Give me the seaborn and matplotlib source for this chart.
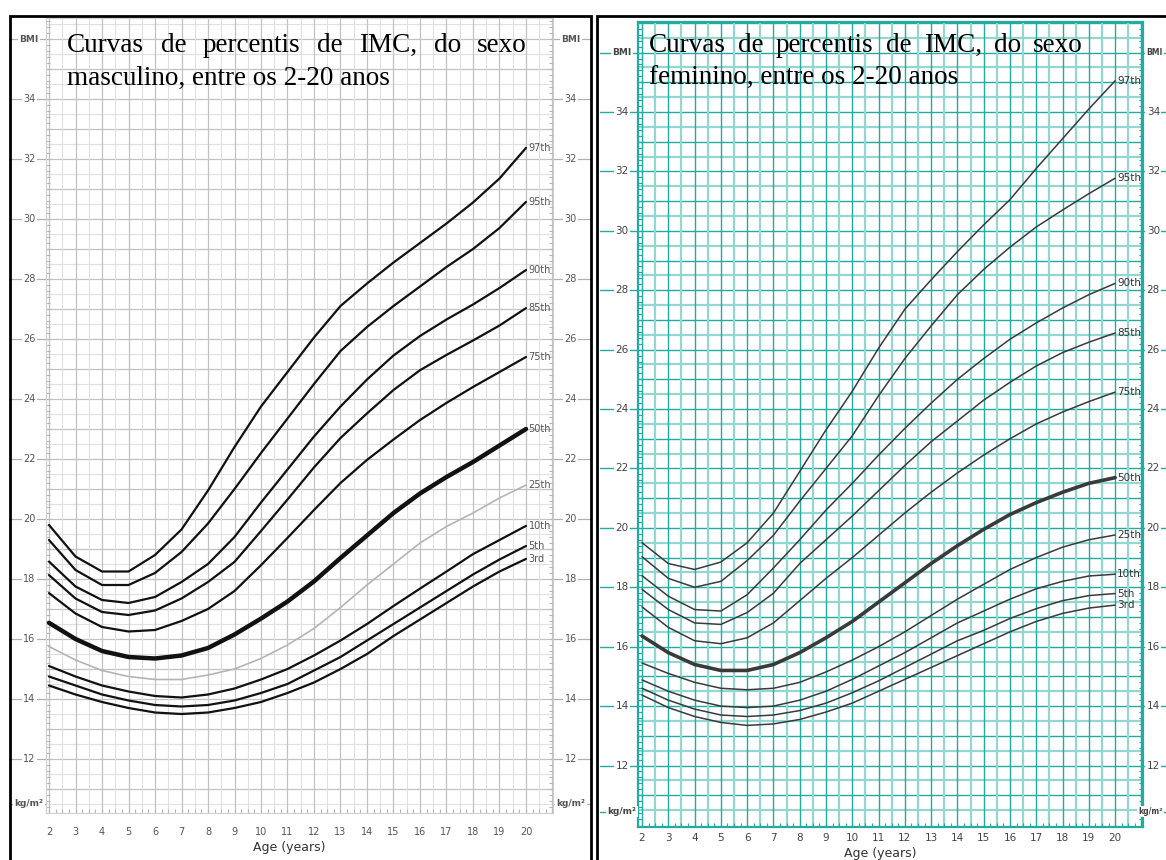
import numpy as np
import pandas as pd
import matplotlib
matplotlib.use("Agg")
import matplotlib.pyplot as plt
import seaborn as sns
from matplotlib.patches import Rectangle

# --- dados ---
AGES = list(range(2, 21))
PERCENTILES = ["97th", "95th", "90th", "85th", "75th", "50th", "25th", "10th", "5th", "3rd"]

BOYS_97 = [19.8, 18.75, 18.25, 18.25, 18.8, 19.65, 20.95, 22.4, 23.75, 24.9, 26.05, 27.1, 27.85, 28.55, 29.2, 29.85, 30.55, 31.35, 32.37]
BOYS_95 = [19.3, 18.3, 17.8, 17.8, 18.2, 18.9, 19.85, 21.0, 22.2, 23.35, 24.5, 25.6, 26.4, 27.1, 27.75, 28.4, 29.0, 29.7, 30.57]
BOYS_90 = [18.58, 17.75, 17.3, 17.2, 17.4, 17.9, 18.5, 19.4, 20.55, 21.65, 22.75, 23.75, 24.65, 25.45, 26.1, 26.65, 27.15, 27.7, 28.3]
BOYS_85 = [18.13, 17.35, 16.9, 16.8, 16.95, 17.35, 17.9, 18.57, 19.6, 20.65, 21.72, 22.7, 23.52, 24.3, 24.96, 25.47, 25.95, 26.45, 27.03]
BOYS_75 = [17.53, 16.85, 16.4, 16.25, 16.3, 16.6, 17.0, 17.6, 18.46, 19.37, 20.3, 21.2, 21.97, 22.65, 23.3, 23.87, 24.4, 24.9, 25.4]
BOYS_50 = [16.54, 16.0, 15.6, 15.4, 15.35, 15.45, 15.7, 16.15, 16.68, 17.25, 17.92, 18.7, 19.45, 20.2, 20.85, 21.4, 21.9, 22.45, 23.0]
BOYS_25 = [15.75, 15.3, 14.95, 14.75, 14.65, 14.65, 14.8, 15.0, 15.35, 15.8, 16.35, 17.05, 17.8, 18.5, 19.2, 19.75, 20.2, 20.7, 21.13]
BOYS_10 = [15.1, 14.75, 14.45, 14.25, 14.1, 14.05, 14.15, 14.35, 14.65, 15.0, 15.45, 15.95, 16.5, 17.1, 17.68, 18.25, 18.83, 19.3, 19.77]
BOYS_5 = [14.75, 14.45, 14.15, 13.95, 13.8, 13.75, 13.8, 13.95, 14.2, 14.5, 14.95, 15.4, 15.95, 16.5, 17.05, 17.6, 18.15, 18.65, 19.1]
BOYS_3 = [14.45, 14.15, 13.9, 13.7, 13.55, 13.5, 13.55, 13.7, 13.9, 14.2, 14.55, 15.0, 15.5, 16.1, 16.65, 17.2, 17.75, 18.25, 18.67]

GIRLS_97 = [19.5, 18.8, 18.6, 18.85, 19.5, 20.5, 21.9, 23.3, 24.6, 26.05, 27.36, 28.35, 29.3, 30.2, 31.05, 32.1, 33.1, 34.1, 35.05]
GIRLS_95 = [19.03, 18.3, 18.0, 18.2, 18.9, 19.75, 20.9, 22.0, 23.1, 24.45, 25.7, 26.8, 27.85, 28.7, 29.45, 30.13, 30.7, 31.25, 31.77]
GIRLS_90 = [18.39, 17.7, 17.25, 17.2, 17.75, 18.65, 19.6, 20.6, 21.5, 22.45, 23.35, 24.2, 25.0, 25.7, 26.35, 26.9, 27.4, 27.85, 28.23]
GIRLS_85 = [17.93, 17.25, 16.8, 16.75, 17.15, 17.8, 18.8, 19.6, 20.4, 21.25, 22.1, 22.9, 23.6, 24.3, 24.9, 25.45, 25.9, 26.25, 26.56]
GIRLS_75 = [17.34, 16.65, 16.2, 16.1, 16.3, 16.8, 17.55, 18.3, 19.0, 19.75, 20.5, 21.2, 21.85, 22.45, 23.0, 23.5, 23.9, 24.25, 24.57]
GIRLS_50 = [16.36, 15.8, 15.4, 15.2, 15.2, 15.4, 15.8, 16.3, 16.85, 17.5, 18.15, 18.8, 19.4, 19.95, 20.45, 20.85, 21.2, 21.5, 21.69]
GIRLS_25 = [15.45, 15.1, 14.8, 14.6, 14.55, 14.6, 14.8, 15.15, 15.55, 16.0, 16.5, 17.05, 17.6, 18.1, 18.6, 19.0, 19.35, 19.6, 19.76]
GIRLS_10 = [14.88, 14.5, 14.2, 14.0, 13.95, 14.0, 14.2, 14.5, 14.9, 15.35, 15.8, 16.3, 16.8, 17.2, 17.6, 17.95, 18.2, 18.38, 18.44]
GIRLS_5 = [14.6, 14.2, 13.9, 13.7, 13.65, 13.7, 13.85, 14.1, 14.45, 14.85, 15.3, 15.75, 16.2, 16.55, 16.95, 17.28, 17.55, 17.72, 17.79]
GIRLS_3 = [14.37, 13.95, 13.65, 13.45, 13.35, 13.4, 13.55, 13.8, 14.1, 14.5, 14.9, 15.3, 15.7, 16.1, 16.5, 16.85, 17.12, 17.3, 17.4]

BMI_LABELS = list(range(12, 36, 2))
AGE_LABELS = list(range(2, 21))

TITLE_M = (["Curvas", "de", "percentis", "de", "IMC,", "do", "sexo"], "masculino, entre os 2-20 anos")
TITLE_F = (["Curvas", "de", "percentis", "de", "IMC,", "do", "sexo"], "feminino, entre os 2-20 anos")


def long_table(series):
    rows = []
    for name, vals in zip(PERCENTILES, series):
        for a, v in zip(AGES, vals):
            rows.append({"age": a, "bmi": v, "pct": name})
    return pd.DataFrame(rows)


boys = long_table([BOYS_97, BOYS_95, BOYS_90, BOYS_85, BOYS_75, BOYS_50, BOYS_25, BOYS_10, BOYS_5, BOYS_3])
girls = long_table([GIRLS_97, GIRLS_95, GIRLS_90, GIRLS_85, GIRLS_75, GIRLS_50, GIRLS_25, GIRLS_10, GIRLS_5, GIRLS_3])

sns.set_style("white")
plt.rcParams["font.family"] = ["Liberation Sans Narrow", "DejaVu Sans"]

W, H = 1166, 860
fig = plt.figure(figsize=(W / 100, H / 100), dpi=100)


def draw_panel(ax, df, st):
    ax.set_xlim(*st["xlim"])
    ax.set_ylim(*st["ylim"])

    # grade milimetrada
    for v in np.arange(10.5, st["ylim"][1], 0.5):
        major = float(v).is_integer()
        ax.axhline(v, color=st["major"] if major else st["minor"],
                   lw=st["mlw"] if major else st["nlw"], zorder=0)
    for a in np.arange(2.0, 21.01, 0.5):
        major = float(a).is_integer()
        ax.axvline(a, color=st["major"] if major else st["minor"],
                   lw=st["mlw"] if major else st["nlw"], zorder=0)

    for sp in ax.spines.values():
        sp.set_color(st["spine"])
        sp.set_linewidth(st["spine_lw"])

    ax.set_yticks(np.arange(10.2, st["ylim"][1], 0.2))
    ax.set_xticks(np.arange(2.0, 21.01, 0.25))
    ax.tick_params(axis="both", direction="in", length=3, width=0.8, color=st["tick_mark"],
                   left=True, right=True, bottom=True, top=False,
                   labelleft=False, labelbottom=False)
    ax.set_xlabel("")
    ax.set_ylabel("")

    # curvas
    for name in PERCENTILES:
        sub = df[df["pct"] == name]
        if name == "50th":
            col, lw = st["curve"], st["mid_lw"]
        elif name == "25th" and st.get("c25"):
            col, lw = st["c25"], st["lw25"]
        else:
            col, lw = st["curve"], st["lw"]
        sns.lineplot(data=sub, x="age", y="bmi", ax=ax, color=col, lw=lw,
                     legend=False, zorder=3)
        ax.text(st["lab_x"], sub["bmi"].iloc[-1], name, fontsize=st["lab_fs"],
                color=st["lab_col"], ha="left", va="center", zorder=4)

    # rotulos do eixo y (dos dois lados)
    ytr = ax.get_yaxis_transform()
    levels = [(y, str(y)) for y in BMI_LABELS] + [(36, "BMI"), (st["kg_y"], "kg/m²")]
    for y, s in levels:
        ax.plot([st["dl"], 0], [y, y], transform=ytr, color=st["dash"], lw=st["mlw"], clip_on=False)
        ax.plot([1, st["dr"]], [y, y], transform=ytr, color=st["dash"], lw=st["mlw"], clip_on=False)
        bold = s in ("BMI", "kg/m²")
        kw = dict(transform=ytr, va="center", color=st["tick_col"], clip_on=False,
                  fontweight="bold" if bold else "normal",
                  bbox=dict(fc="white", ec="none", pad=1.0))
        ax.text(st["yl"], y, s, ha="center", fontsize=6.5 if bold else st["tick_fs"], **kw)
        if bold and "yr_bold" in st:
            ax.text(st["yr_bold"], y, s, ha="right", fontsize=st["yr_bold_fs"], **kw)
        else:
            ax.text(st["yr"], y, s, ha=st.get("yr_ha", "center"),
                    fontsize=6.5 if bold else st["tick_fs"], **kw)

    xtr = ax.get_xaxis_transform()
    for a in AGE_LABELS:
        ax.text(a, st["xl_y"], str(a), transform=xtr, ha="center", va="center",
                fontsize=st["tick_fs"], color=st["tick_col"], clip_on=False)
    ax.text(11.05, st["age_y"], "Age (years)", transform=xtr, ha="center", va="center",
            fontsize=9, color="#333333", clip_on=False)


def px_axes(x0, x1, y0, y1):
    return fig.add_axes([x0 / W, 1 - y1 / H, (x1 - x0) / W, (y1 - y0) / H])


left_style = dict(xlim=(1.9, 21.0), ylim=(10.2, 36.7), major="#c2c2c2", minor="#e0e0e0",
                  dash="#b0b0b0", tick_mark="#b5b5b5",
                  mlw=0.9, nlw=0.8, spine="#cfcfcf", spine_lw=0.8, curve="#111111", lw=1.6,
                  mid_lw=3.2, c25="#b4b4b4", lw25=1.2, lab_x=20.1, lab_fs=7, lab_col="#555555",
                  tick_fs=7, tick_col="#555555", kg_y=10.5, dl=-0.072, dr=1.074,
                  yl=-0.034, yr=1.036, xl_y=-0.024, age_y=-0.044)
ax_l = px_axes(46.35, 552.5, 18, 813)
draw_panel(ax_l, boys, left_style)

right_style = dict(xlim=(1.85, 21.05), ylim=(9.93, 37.03), major="#22ab9f", minor="#93d8d0",
                   dash="#22ab9f", tick_mark="#22ab9f",
                   mlw=1.0, nlw=1.6, spine="#22ab9f", spine_lw=1.6, curve="#3a3a3a", lw=1.1,
                   mid_lw=2.6, c25=None, lw25=1.1, lab_x=20.08, lab_fs=7.5, lab_col="#333333",
                   tick_fs=7.5, tick_col="#444444", kg_y=10.45, dl=-0.0755, dr=1.07,
                   yl=-0.032, yr=1.008, yr_ha="left", yr_bold=1.040, yr_bold_fs=5.5,
                   xl_y=-0.0137, age_y=-0.0323)
ax_r = px_axes(638.1, 1142.7, 22, 827)
draw_panel(ax_r, girls, right_style)

# molduras pretas
fig.add_artist(Rectangle((10 / W, -0.01), 581 / W, 1 - 16 / H + 0.01, transform=fig.transFigure,
                         fill=False, ec="black", lw=2, zorder=10))
fig.add_artist(Rectangle((597 / W, -0.01), 0.6, 1 - 16 / H + 0.01, transform=fig.transFigure,
                         fill=False, ec="black", lw=2, zorder=10))

# titulos justificados
renderer = fig.canvas.get_renderer()
serif = dict(family=["Liberation Serif", "DejaVu Serif"], fontsize=19.5, color="black", va="baseline", zorder=11)


def justified(words, x0, x1, ybase):
    texts = [fig.text(0, 1 - ybase / H, w, **serif) for w in words]
    widths = [t.get_window_extent(renderer).width for t in texts]
    gap = (x1 - x0 - sum(widths)) / (len(words) - 1)
    x = x0
    for t, w in zip(texts, widths):
        t.set_x(x / W)
        x += w + gap


for (words, line2), x0, x1 in [(TITLE_M, 67, 527), (TITLE_F, 649, 1083)]:
    justified(words, x0, x1, 52)
    fig.text(x0 / W, 1 - 85 / H, line2, **serif)

fig.savefig("out.png", dpi=100, facecolor="white")
